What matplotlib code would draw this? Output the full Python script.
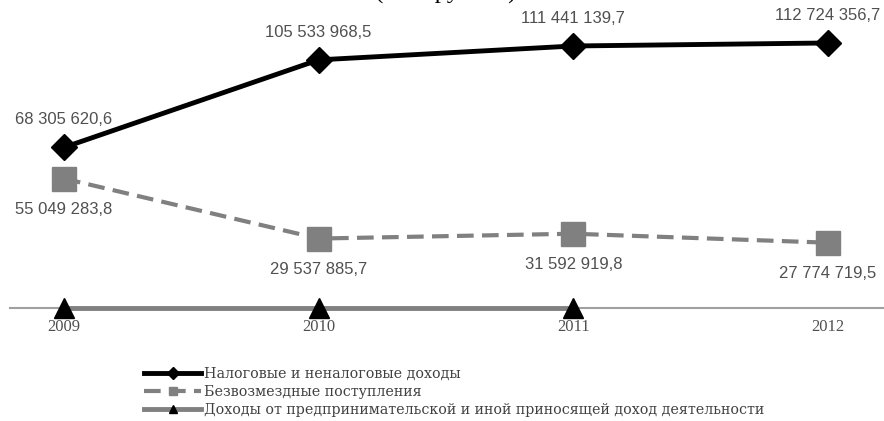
import numpy as np
import matplotlib.pyplot as plt

# данные (тыс. рублей)
years = [2009, 2010, 2011, 2012]
tax_income = [68305620.6, 105533968.5, 111441139.7, 112724356.7]
free_income = [55049283.8, 29537885.7, 31592919.8, 27774719.5]
business_years = [2009, 2010, 2011]
business_income = [0, 0, 0]

tax_labels = ["68 305 620,6", "105 533 968,5", "111 441 139,7", "112 724 356,7"]
free_labels = ["55 049 283,8", "29 537 885,7", "31 592 919,8", "27 774 719,5"]

names = ["Налоговые и неналоговые доходы",
         "Безвозмездные поступления",
         "Доходы от предпринимательской и иной приносящей доход деятельности"]

fig = plt.figure(figsize=(8.84, 4.21), dpi=100)
ax = fig.add_axes([10 / 884, 113 / 421, 874 / 884, 308 / 421])

ax.plot(years, tax_income, color="black", lw=3.5, marker="D", ms=13,
        label=names[0], clip_on=False, zorder=4)
ax.plot(years, free_income, color="#808080", lw=3, ls=(0, (4, 2)),
        marker="s", ms=17, label=names[1], clip_on=False, zorder=3)
ax.plot(business_years, business_income, color="#808080", lw=3.5,
        marker="^", ms=15, markerfacecolor="black", markeredgecolor="black",
        label=names[2], clip_on=False, zorder=5)

# подписи значений
for x, y, t in zip(years, tax_income, tax_labels):
    ax.annotate(t, (x, y), xytext=(0, 20), textcoords="offset points",
                ha="center", va="center", fontsize=12, color="#505050",
                family="Liberation Sans")
for x, y, t in zip(years, free_income, free_labels):
    ax.annotate(t, (x, y), xytext=(0, -22), textcoords="offset points",
                ha="center", va="center", fontsize=12, color="#505050",
                family="Liberation Sans")

ax.set_xlim(2008.788, 2012.22)
ax.set_ylim(0, 131e6)
ax.set_yticks([])
ax.set_xticks(years)
ax.set_xticklabels([str(y) for y in years], family="Liberation Serif",
                   fontsize=12, color="#505050")
ax.tick_params(axis="x", length=0, pad=8)
for s in ["top", "right", "left"]:
    ax.spines[s].set_visible(False)
ax.spines["bottom"].set_color("#a0a0a0")
ax.spines["bottom"].set_linewidth(1.5)
ax.patch.set_alpha(0)

# заголовок, обрезанный верхним краем
fig.text(446 / 884, 1 + 2 / 421, "(тыс. рублей)", ha="center", va="baseline",
         fontsize=18, family="Liberation Serif")

leg = fig.legend(loc="upper left", bbox_to_anchor=(144 / 884, 1 - 367 / 421),
                 frameon=False, prop={"family": "DejaVu Serif", "size": 10.3},
                 handlelength=4, handletextpad=0.2, labelspacing=0.28,
                 borderaxespad=0, borderpad=0)
for h in leg.legend_handles:
    h.set_markersize(6)
for t in leg.get_texts():
    t.set_color("#404040")

fig.savefig("out.png", dpi=100)
